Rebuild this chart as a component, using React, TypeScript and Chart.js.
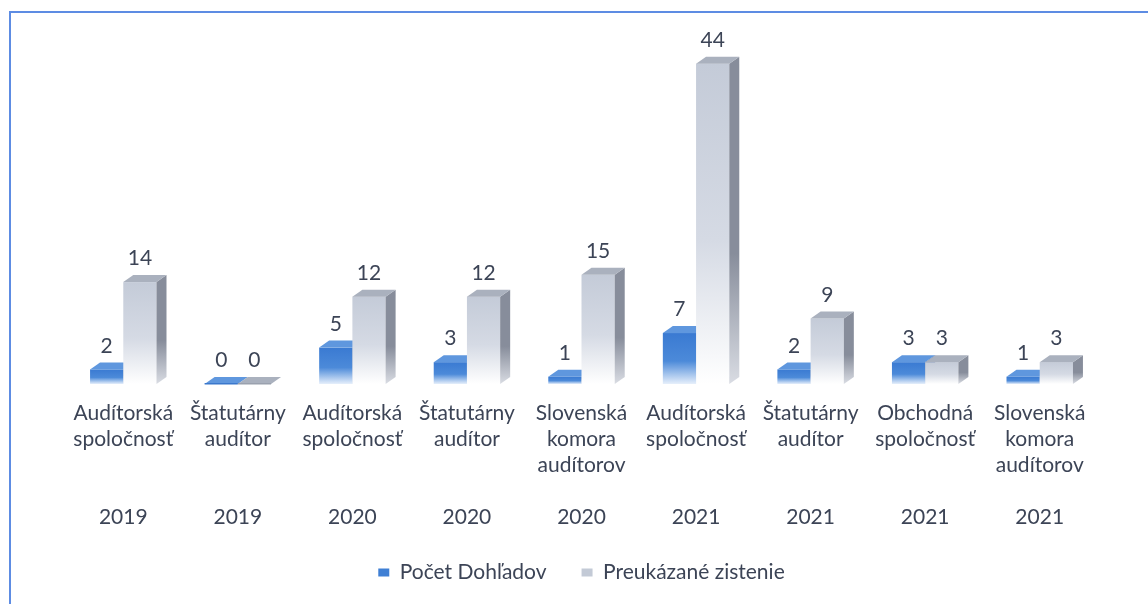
import React, { useEffect, useRef } from "react";
import { Chart, registerables } from "chart.js";

Chart.register(...registerables);

const categoryNames: string[][] = [
  ["Audítorská", "spoločnosť"],
  ["Štatutárny", "audítor"],
  ["Audítorská", "spoločnosť"],
  ["Štatutárny", "audítor"],
  ["Slovenská", "komora", "audítorov"],
  ["Audítorská", "spoločnosť"],
  ["Štatutárny", "audítor"],
  ["Obchodná", "spoločnosť"],
  ["Slovenská", "komora", "audítorov"],
];
const years = ["2019", "2019", "2020", "2020", "2020", "2021", "2021", "2021", "2021"];
const pocetDohladov = [2, 0, 5, 3, 1, 7, 2, 3, 1];
const preukazaneZistenie = [14, 0, 12, 12, 15, 44, 9, 3, 3];
const seriesNames = ["Počet Dohľadov", "Preukázané zistenie"];

const FONT = "Lato, 'Open Sans', sans-serif";
const TEXT = "#3c4456";
const DX = 10;
const DY = 7;

const palettes = [
  {
    legend: "#3f7fd4",
    frontTop: "#3a7ad2",
    frontMid: "#4c8ad9",
    frontBot: "#e6effb",
    top: "#5f97de",
    sideTop: "#2a5da6",
    sideBot: "#b7cbe8",
  },
  {
    legend: "#c3cad6",
    frontTop: "#c4cbd8",
    frontMid: "#d5dae4",
    frontBot: "#ffffff",
    top: "#aab1be",
    sideTop: "#878d9b",
    sideBot: "#d9dce3",
  },
];

const bars3d = {
  id: "bars3d",
  afterDatasetsDraw(chart: any) {
    const ctx = chart.ctx as CanvasRenderingContext2D;
    const n = chart.data.labels.length;
    ctx.save();
    for (let i = 0; i < n; i++) {
      for (let d = 0; d < 2; d++) {
        const el = chart.getDatasetMeta(d).data[i];
        if (!el) continue;
        const { x, y, base, width } = el.getProps(["x", "y", "base", "width"], true);
        const p = palettes[d];
        const left = x - width / 2;
        const right = x + width / 2;
        const h = base - y;
        if (h > 0.5) {
          const g = ctx.createLinearGradient(0, y, 0, base);
          g.addColorStop(0, p.frontTop);
          g.addColorStop(0.55, p.frontMid);
          g.addColorStop(1, p.frontBot);
          ctx.fillStyle = g;
          ctx.fillRect(left, y, width, h);
          const gs = ctx.createLinearGradient(0, y - DY, 0, base);
          gs.addColorStop(0, p.sideTop);
          gs.addColorStop(0.6, p.sideTop);
          gs.addColorStop(1, p.sideBot);
          ctx.fillStyle = gs;
          ctx.beginPath();
          ctx.moveTo(right, y);
          ctx.lineTo(right + DX, y - DY);
          ctx.lineTo(right + DX, base - DY);
          ctx.lineTo(right, base);
          ctx.closePath();
          ctx.fill();
        }
        ctx.fillStyle = p.top;
        ctx.beginPath();
        ctx.moveTo(left, y);
        ctx.lineTo(left + DX, y - DY);
        ctx.lineTo(right + DX, y - DY);
        ctx.lineTo(right, y);
        ctx.closePath();
        ctx.fill();
        if (h <= 0.5) {
          ctx.fillStyle = d === 0 ? "#3b78cc" : "#9aa1ae";
          ctx.fillRect(left, y - 1, width, 1.5);
        }
      }
    }
    ctx.fillStyle = TEXT;
    ctx.font = `21px ${FONT}`;
    ctx.textAlign = "center";
    ctx.textBaseline = "bottom";
    for (let d = 0; d < 2; d++) {
      const meta = chart.getDatasetMeta(d);
      meta.data.forEach((el: any, i: number) => {
        const v = chart.data.datasets[d].data[i];
        ctx.fillText(String(v), el.x, el.y - DY - 6);
      });
    }
    ctx.restore();
  },
};

export default function App() {
  const ref = useRef<HTMLCanvasElement>(null);
  useEffect(() => {
    document.body.style.margin = "0";
    const labels = categoryNames.map((c, i) => [
      ...c,
      ...Array(4 - c.length).fill(""),
      years[i],
    ]);
    const chart = new Chart(ref.current!, {
      type: "bar",
      data: {
        labels,
        datasets: [
          {
            label: seriesNames[0],
            data: pocetDohladov,
            backgroundColor: "rgba(0,0,0,0)",
            categoryPercentage: 0.58,
            barPercentage: 1,
          },
          {
            label: seriesNames[1],
            data: preukazaneZistenie,
            backgroundColor: "rgba(0,0,0,0)",
            categoryPercentage: 0.58,
            barPercentage: 1,
          },
        ],
      },
      options: {
        animation: false,
        responsive: false,
        layout: { padding: { left: 66, right: 51, top: 20, bottom: 11 } },
        scales: {
          x: {
            grid: { display: false, drawTicks: false },
            border: { display: false },
            afterFit: (scale: any) => {
              scale.height = 143;
            },
            ticks: {
              color: TEXT,
              font: { family: FONT, size: 21, lineHeight: 26 / 21 },
              padding: 16,
              maxRotation: 0,
              autoSkip: false,
            },
          },
          y: { display: false, min: 0, max: 50 },
        },
        plugins: {
          tooltip: { enabled: false },
          legend: {
            position: "bottom",
            labels: {
              boxWidth: 11,
              boxHeight: 8,
              padding: 35,
              color: TEXT,
              font: { family: FONT, size: 21 },
              generateLabels: (c: any) =>
                c.data.datasets.map((ds: any, i: number) => ({
                  text: ds.label,
                  fillStyle: palettes[i].legend,
                  strokeStyle: palettes[i].legend,
                  lineWidth: 0,
                  hidden: false,
                  datasetIndex: i,
                  fontColor: TEXT,
                })),
            },
          },
        },
      },
      plugins: [bars3d],
    } as any);
    return () => chart.destroy();
  }, []);
  return (
    <div style={{ position: "fixed", left: 0, top: 0, width: 1148, height: 604, background: "#fff" }}>
      <canvas ref={ref} width={1148} height={604} style={{ position: "absolute", left: 0, top: 0 }} />
      <div
        style={{
          position: "absolute",
          left: 9,
          top: 11,
          width: 1139,
          height: 593,
          borderTop: "2px solid #5d8ce3",
          borderLeft: "2px solid #5d8ce3",
          boxSizing: "border-box",
          pointerEvents: "none",
        }}
      />
    </div>
  );
}
